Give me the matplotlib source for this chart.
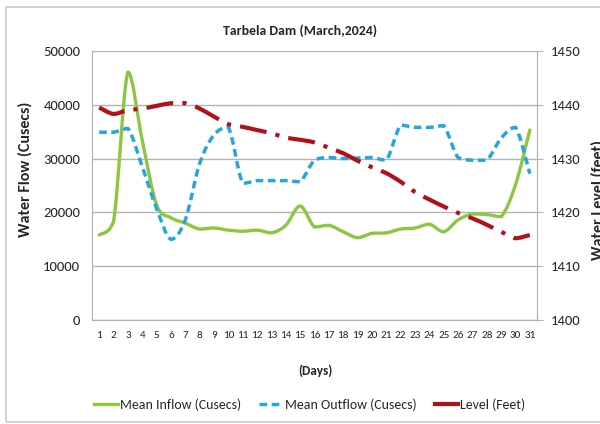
import matplotlib
matplotlib.use("Agg")
import matplotlib.pyplot as plt
import numpy as np
from matplotlib.path import Path
from matplotlib.patches import PathPatch, Rectangle
from matplotlib.lines import Line2D

days = list(range(1, 32))
inflow = [15800, 18300, 46100, 33400, 21400, 19000, 18000, 16900, 17100, 16700,
          16500, 16700, 16200, 17600, 21200, 17300, 17600, 16400, 15300, 16100,
          16200, 16900, 17100, 17800, 16400, 18600, 19700, 19600, 19200, 25100,
          35300]
outflow = [34900, 34900, 35600, 28500, 20700, 15000, 18600, 29100, 34400, 35800,
           25400, 25900, 25900, 25900, 25700, 29700, 30200, 30000, 30100, 30200,
           29700, 36200, 35800, 35800, 36100, 30200, 29700, 29700, 33800, 35800,
           27200]
level = [1439.5, 1438.3, 1439.0, 1439.3, 1439.8, 1440.3, 1440.3, 1439.3, 1437.8,
         1436.4, 1435.9, 1435.3, 1434.7, 1433.9, 1433.5, 1433.0, 1432.0, 1431.0,
         1429.6, 1428.4, 1427.3, 1425.7, 1423.8, 1422.4, 1421.1, 1419.9, 1418.9,
         1417.7, 1416.4, 1415.2, 1415.8]

GREEN = "#8DC641"
BLUE = "#27A6DE"
RED = "#B0121B"
GRID = "#B3B3B3"
TXT = "#262626"
plt.rcParams["font.family"] = ["Carlito", "DejaVu Sans"]


def smooth_path(x, y):
    # Catmull-Rom smoothing as cubic bezier segments; control points are kept
    # inside each segment's y-range so the curve does not overshoot
    x = np.asarray(x, float)
    y = np.asarray(y, float)
    px = np.concatenate([[x[0]], x, [x[-1]]])
    py = np.concatenate([[y[0]], y, [y[-1]]])
    verts = [(x[0], y[0])]
    codes = [Path.MOVETO]
    for i in range(1, len(px) - 2):
        lo, hi = sorted((py[i], py[i + 1]))
        c1y = np.clip(py[i] + (py[i + 1] - py[i - 1]) / 6, lo, hi)
        c2y = np.clip(py[i + 1] - (py[i + 2] - py[i]) / 6, lo, hi)
        c1 = (px[i] + (px[i + 1] - px[i - 1]) / 6, c1y)
        c2 = (px[i + 1] - (px[i + 2] - px[i]) / 6, c2y)
        verts += [c1, c2, (px[i + 1], py[i + 1])]
        codes += [Path.CURVE4] * 3
    return Path(verts, codes)


fig = plt.figure(figsize=(6, 4.24), dpi=100)
fig.patches.append(Rectangle((6 / 600, 2 / 424), 1.0, 1 - 9 / 424,
                             transform=fig.transFigure, fill=False,
                             edgecolor="#C8C8C8", linewidth=1.2))

ax = fig.add_axes([92 / 600, 1 - 320 / 424, 445 / 600, 269 / 424])
ax2 = ax.twinx()

ax.set_xlim(0.5, 31.5)
ax.set_ylim(0, 50000)
ax2.set_ylim(1400, 1450)
ax.set_yticks(range(0, 50001, 10000))
ax2.set_yticks(range(1400, 1451, 10))
ax.set_xticks(days)
ax.set_xticklabels([str(d) for d in days])
ax.yaxis.grid(True, color=GRID, linewidth=1)
ax.set_axisbelow(True)

for a in (ax, ax2):
    for s in a.spines.values():
        s.set_color(GRID)
    a.spines["top"].set_visible(False)
ax.tick_params(axis="x", length=0, pad=8, labelsize=8, labelcolor=TXT)
ax.tick_params(axis="y", length=0, pad=8.5, labelsize=10.5, labelcolor=TXT)
ax2.tick_params(axis="y", length=4, color=GRID, pad=6, labelsize=10.5, labelcolor=TXT)

ax.add_patch(PathPatch(smooth_path(days, inflow), fill=False, edgecolor=GREEN,
                       linewidth=2.4, capstyle="round", joinstyle="round"))
ax.add_patch(PathPatch(smooth_path(days, outflow), fill=False, edgecolor=BLUE,
                       linewidth=2.5, linestyle=(0, (2.2, 1.3))))
ax2.add_patch(PathPatch(smooth_path(days, level), fill=False, edgecolor=RED,
                        linewidth=3, linestyle=(0, (6.5, 2.2, 1, 2.2))))

fig.text(300 / 600, 1 - 31 / 424, "Tarbela Dam (March,2024)", ha="center", va="center",
         fontsize=10, fontweight="bold", color=TXT)
fig.text(25 / 600, 1 - 169 / 424, "Water Flow (Cusecs)", rotation=90, ha="center",
         va="center", fontsize=11.5, fontweight="bold", color=TXT)
fig.text(598 / 600, 1 - 200 / 424, "Water Level (feet)", rotation=90, ha="center",
         va="center", fontsize=11.5, fontweight="bold", color=TXT)
fig.text(315 / 600, 1 - 371 / 424, "(Days)", ha="center", va="center",
         fontsize=9.5, fontweight="bold", color=TXT)

handles = [
    Line2D([], [], color=GREEN, linewidth=2.4),
    Line2D([], [], color=BLUE, linewidth=2.5, linestyle=(0, (2.2, 1.3))),
    Line2D([], [], color=RED, linewidth=3),
]
labels = ["Mean Inflow (Cusecs)", "Mean Outflow (Cusecs)", "Level (Feet)"]
fig.legend(handles, labels, loc="center", bbox_to_anchor=(310 / 600, 1 - 405 / 424),
           ncol=3, frameon=False, handlelength=1.7, handletextpad=0.15,
           columnspacing=1.3, prop={"size": 10}, labelcolor=TXT)

fig.savefig("out.png", dpi=100)
